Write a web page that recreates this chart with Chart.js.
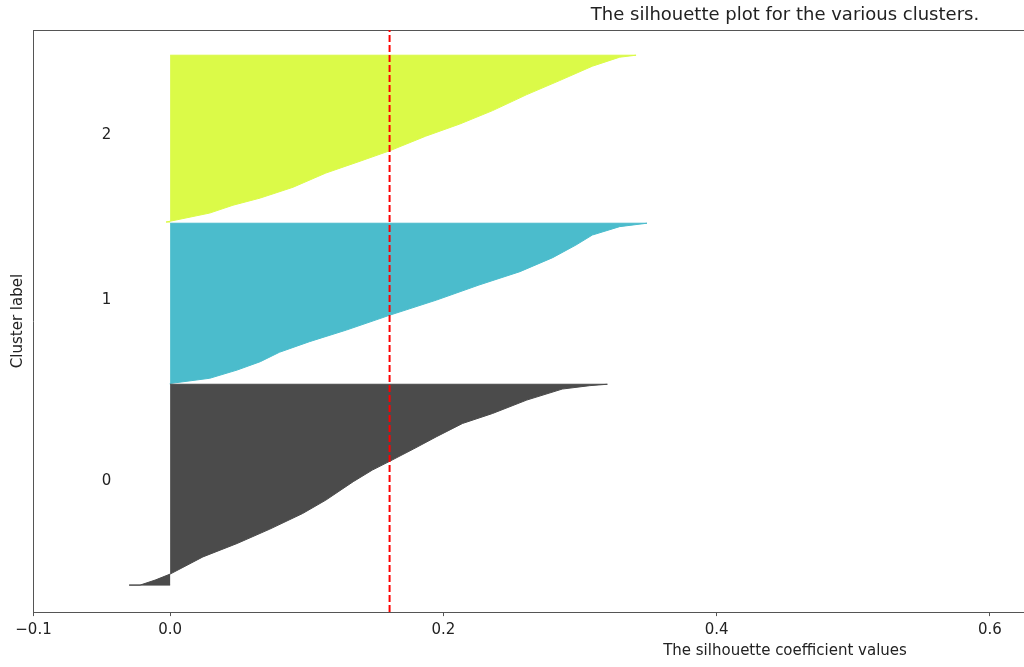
<!DOCTYPE html>
<html>
<head>
<meta charset="utf-8">
<script src="https://cdn.jsdelivr.net/npm/chart.js@4"></script>
<style>
  html, body { margin: 0; padding: 0; background: #fff; overflow: hidden; }
  #wrap { width: 1024px; height: 667px; overflow: hidden; }
</style>
</head>
<body>
<div id="wrap"><canvas id="silhouetteChart" width="1570" height="667"></canvas></div>
<script>
// silhouette values per cluster, sorted, with their sample position on the y axis
const cluster0Index = [13.5, 13.5, 16, 19, 27.6, 34.3, 41.5, 49.3, 56, 65.2, 71, 75.5, 81.5, 87.7, 94.3, 99.3, 106, 111.5, 113.2, 113.9];
const cluster0Values = [-0.030, -0.022, -0.011, 0.0, 0.024, 0.049, 0.073, 0.097, 0.114, 0.134, 0.148, 0.161, 0.178, 0.195, 0.214, 0.236, 0.261, 0.287, 0.307, 0.320];

const cluster1Index = [114.3, 116.9, 121, 125.2, 129.9, 135.2, 141, 148.5, 156, 163.5, 170.2, 177.2, 183.5, 188.5, 192.7, 194.4];
const cluster1Values = [0.0, 0.029, 0.049, 0.066, 0.080, 0.102, 0.129, 0.161, 0.195, 0.226, 0.256, 0.280, 0.297, 0.309, 0.329, 0.349];

const cluster2Index = [195, 195.4, 199.5, 203.4, 207, 212.4, 219.5, 225.4, 230.7, 237.9, 244, 250.7, 258.7, 265.7, 272.9, 277.4, 278.4];
const cluster2Values = [-0.003, 0.0, 0.029, 0.046, 0.066, 0.090, 0.114, 0.139, 0.161, 0.187, 0.212, 0.236, 0.261, 0.285, 0.309, 0.329, 0.341];

const clusterLabels = ["0", "1", "2"];
const clusterLower = [13.5, 113.9, 195];
const clusterUpper = [113.9, 194.4, 278.4];
const clusterColors = ["#4b4b4b", "#4bbccc", "#dbfa48"];

const silhouetteAvg = 0.1606;
const xTicks = [-0.1, 0.0, 0.2, 0.4, 0.6];
const yMax = 291;

document.addEventListener("DOMContentLoaded", function () {
  initSilhouetteChart();
});

function clusterShape(index, values, lower, upper) {
  const pts = [{ x: 0, y: lower }];
  for (let i = 0; i < values.length; i++) {
    pts.push({ x: values[i], y: index[i] });
  }
  pts.push({ x: 0, y: upper });
  return pts;
}

// draws the cluster numbers at x = -0.05, baseline on the cluster middle
const clusterTextPlugin = {
  id: "clusterText",
  afterDatasetsDraw(chart) {
    const { ctx, scales } = chart;
    ctx.save();
    ctx.font = "15px 'DejaVu Sans'";
    ctx.fillStyle = "#222";
    ctx.textAlign = "left";
    ctx.textBaseline = "alphabetic";
    clusterLabels.forEach(function (lab, i) {
      const mid = (clusterLower[i] + clusterUpper[i]) / 2;
      ctx.fillText(lab, scales.x.getPixelForValue(-0.05), scales.y.getPixelForValue(mid));
    });
    ctx.restore();
  },
};

function initSilhouetteChart() {
  const ctx = document.getElementById("silhouetteChart");
  if (!ctx) return;

  Chart.defaults.font.family = "'DejaVu Sans', sans-serif";
  Chart.defaults.font.size = 15;
  Chart.defaults.color = "#222";

  const shapes = [
    clusterShape(cluster0Index, cluster0Values, clusterLower[0], clusterUpper[0]),
    clusterShape(cluster1Index, cluster1Values, clusterLower[1], clusterUpper[1]),
    clusterShape(cluster2Index, cluster2Values, clusterLower[2], clusterUpper[2]),
  ];

  const datasets = shapes.map(function (pts, i) {
    return {
      label: "Cluster " + clusterLabels[i],
      data: pts,
      showLine: true,
      fill: "shape",
      backgroundColor: clusterColors[i],
      borderColor: clusterColors[i],
      borderWidth: 1,
      pointRadius: 0,
      tension: 0,
      order: 1,
    };
  });

  datasets.push({
    label: "Average silhouette",
    data: [
      { x: silhouetteAvg, y: 0 },
      { x: silhouetteAvg, y: yMax },
    ],
    showLine: true,
    fill: false,
    borderColor: "#ff0000",
    borderWidth: 2,
    borderDash: [7, 3],
    pointRadius: 0,
    order: 0,
  });

  new Chart(ctx, {
    type: "scatter",
    data: { datasets: datasets },
    plugins: [clusterTextPlugin],
    options: {
      responsive: false,
      animation: false,
      layout: {
        padding: { left: 5.3, right: 33.5, top: 0, bottom: 0 },
      },
      plugins: {
        legend: { display: false },
        tooltip: { enabled: false },
        title: {
          display: true,
          fullSize: false,
          text: "The silhouette plot for the various clusters.",
          font: { size: 18, weight: "normal" },
          color: "#222",
          padding: { top: 4.2, bottom: 4.2 },
        },
      },
      scales: {
        x: {
          type: "linear",
          position: "bottom",
          min: -0.1,
          max: 1.0,
          afterBuildTicks: function (scale) {
            scale.ticks = xTicks.map(function (v) {
              return { value: v };
            });
          },
          ticks: {
            padding: 4.6,
            autoSkip: false,
            maxRotation: 0,
            callback: function (v) {
              return v < 0 ? "\u2212" + Math.abs(v).toFixed(1) : v.toFixed(1);
            },
          },
          grid: {
            display: true,
            drawOnChartArea: false,
            drawTicks: true,
            tickLength: 4,
            tickColor: "#555",
          },
          border: { display: true, color: "#555", width: 1 },
          title: {
            display: true,
            text: "The silhouette coefficient values",
            padding: { top: -1.6, bottom: 7.3 },
          },
        },
        xTop: {
          type: "linear",
          position: "top",
          min: -0.1,
          max: 1.0,
          ticks: { display: false },
          grid: { display: false, drawTicks: false },
          border: { display: true, color: "#555", width: 1 },
        },
        y: {
          type: "linear",
          min: 0,
          max: yMax,
          ticks: { display: false },
          grid: { display: false, drawTicks: false },
          border: { display: true, color: "#555", width: 1 },
          title: {
            display: true,
            text: "Cluster label",
            padding: { top: 4, bottom: 6.2 },
          },
        },
      },
    },
  });
}
</script>
</body>
</html>
